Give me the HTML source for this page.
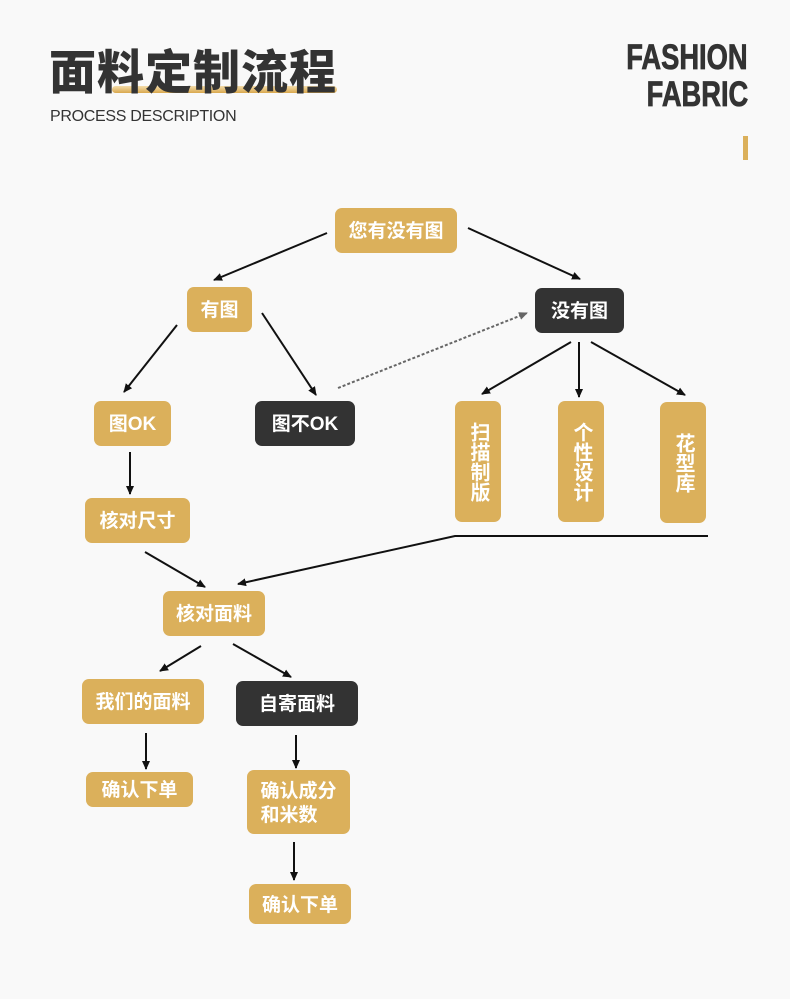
<!DOCTYPE html>
<html><head><meta charset="utf-8"><style>
html,body{margin:0;padding:0}
body{width:790px;height:999px;background:#f9f9f9;position:relative;overflow:hidden;font-family:"Liberation Sans","Noto Sans CJK SC",sans-serif}
.b{position:absolute;box-sizing:border-box;padding-top:3px;border-radius:7px;background:#dbb05b;color:#fff;font-weight:bold;font-size:19px;display:flex;align-items:center;justify-content:center;text-align:center;line-height:24px}
.d{background:#333}
.v{writing-mode:vertical-rl;padding-top:0;font-size:20px;line-height:22px}
.t{position:absolute;left:49px;top:34px;font-size:47px;font-weight:900;color:#333;letter-spacing:1px}
.ul{position:absolute;left:112px;top:86px;width:225px;height:7px;border-radius:4px;background:linear-gradient(#f3dcaa,#d9a84e)}
.fx{position:absolute;right:42px;font-weight:bold;font-size:35px;color:#333;transform:scaleX(0.78);transform-origin:right center;white-space:nowrap;line-height:30px;-webkit-text-stroke:0.8px #333}
</style></head><body>
<div class="ul"></div>
<div class="t">面料定制流程</div>
<div style="position:absolute;left:50px;top:108px;font-size:16px;color:#333;letter-spacing:-0.3px">PROCESS DESCRIPTION</div>
<div class="fx" style="top:43px">FASHION</div>
<div class="fx" style="top:80px">FABRIC</div>
<div style="position:absolute;left:743px;top:136px;width:5px;height:24px;background:#dbb05b"></div>

<svg width="790" height="999" style="position:absolute;left:0;top:0">
<defs>
<marker id="a" markerWidth="10" markerHeight="10" refX="8" refY="5" orient="auto" markerUnits="userSpaceOnUse"><path d="M0,1 L9,5 L0,9 z" fill="#111"/></marker>
<marker id="g" markerWidth="10" markerHeight="10" refX="8" refY="5" orient="auto" markerUnits="userSpaceOnUse"><path d="M0,1 L9,5 L0,9 z" fill="#666"/></marker>
</defs>
<g stroke="#111" stroke-width="2" fill="none" marker-end="url(#a)">
<line x1="327" y1="233" x2="214" y2="280"/>
<line x1="468" y1="228" x2="580" y2="279"/>
<line x1="177" y1="325" x2="124" y2="392"/>
<line x1="262" y1="313" x2="316" y2="395"/>
<line x1="571" y1="342" x2="482" y2="394"/>
<line x1="579" y1="342" x2="579" y2="397"/>
<line x1="591" y1="342" x2="685" y2="395"/>
<line x1="130" y1="452" x2="130" y2="494"/>
<polyline points="708,536 455,536 238,584"/>
<line x1="145" y1="552" x2="205" y2="587"/>
<line x1="201" y1="646" x2="160" y2="671"/>
<line x1="233" y1="644" x2="291" y2="677"/>
<line x1="146" y1="733" x2="146" y2="769"/>
<line x1="296" y1="735" x2="296" y2="768"/>
<line x1="294" y1="842" x2="294" y2="880"/>
</g>
<line x1="338" y1="388" x2="527" y2="313" stroke="#666" stroke-width="2" stroke-dasharray="3,2" marker-end="url(#g)"/>
</svg>

<div class="b" style="left:335px;top:208px;width:122px;height:45px">您有没有图</div>
<div class="b" style="left:187px;top:287px;width:65px;height:45px">有图</div>
<div class="b d" style="left:535px;top:288px;width:89px;height:45px">没有图</div>
<div class="b" style="left:94px;top:401px;width:77px;height:45px">图OK</div>
<div class="b d" style="left:255px;top:401px;width:100px;height:45px">图不OK</div>
<div class="b v" style="left:455px;top:401px;width:46px;height:121px">扫描制版</div>
<div class="b v" style="left:558px;top:401px;width:46px;height:121px">个性设计</div>
<div class="b v" style="left:660px;top:402px;width:46px;height:121px">花型库</div>
<div class="b" style="left:85px;top:498px;width:105px;height:45px">核对尺寸</div>
<div class="b" style="left:163px;top:591px;width:102px;height:45px">核对面料</div>
<div class="b" style="left:82px;top:679px;width:122px;height:45px">我们的面料</div>
<div class="b d" style="left:236px;top:681px;width:122px;height:45px">自寄面料</div>
<div class="b" style="left:86px;top:772px;width:107px;height:35px">确认下单</div>
<div class="b" style="left:247px;top:770px;width:103px;height:64px;text-align:left">确认成分<br>和米数</div>
<div class="b" style="left:249px;top:884px;width:102px;height:40px">确认下单</div>
</body></html>
